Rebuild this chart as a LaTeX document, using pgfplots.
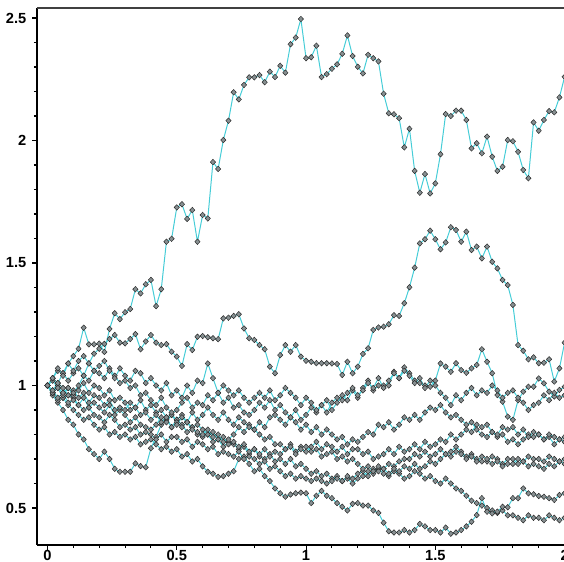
\documentclass[border=0pt]{standalone}
\usepackage{pgfplots}
\pgfplotsset{compat=1.18}
\usepackage{pgfplotstable}
\usepackage{fontspec}
\setmainfont{Liberation Sans}

\definecolor{pathcyan}{RGB}{70,205,215}
\definecolor{markgray}{RGB}{135,143,145}

% t, then ten sample paths (step 0.02)
\pgfplotstableread{
t    A     B     C     D     E     F     G     H     I     J
0.00 1.00  1.00  1.00  1.00  1.00  1.00  1.00  1.00  1.00  1.00
0.02 1.03  1.03  1.03  0.98  1.02  0.97  0.98  0.97  0.97  0.96
0.04 1.07  1.06  1.01  1.01  0.99  1.00  0.95  0.99  0.94  0.93
0.06 1.04  1.05  1.05  0.99  0.97  0.96  0.97  0.95  0.95  0.90
0.08 1.09  1.09  1.02  0.96  0.99  0.99  0.93  0.96  0.92  0.86
0.10 1.12  1.06  1.05  0.97  0.96  0.98  0.94  0.95  0.90  0.84
0.12 1.15  1.10  1.07  1.00  0.98  0.95  0.92  0.92  0.88  0.80
0.14 1.236 1.12  1.04  1.04  1.01  0.97  0.95  0.90  0.86  0.78
0.16 1.168 1.09  1.09  1.02  0.97  0.93  0.91  0.91  0.87  0.74
0.18 1.168 1.13  1.06  1.06  1.00  0.96  0.93  0.88  0.84  0.72
0.20 1.171 1.15  1.08  1.05  0.99  0.95  0.91  0.87  0.82  0.70
0.22 1.137 1.17  1.10  1.03  0.96  0.92  0.89  0.85  0.83  0.73
0.24 1.231 1.19  1.06  1.07  0.98  0.94  0.92  0.88  0.80  0.70
0.26 1.295 1.206 1.03  1.04  0.94  0.90  0.88  0.86  0.81  0.66
0.28 1.271 1.175 1.07  1.01  0.95  0.91  0.90  0.83  0.79  0.648
0.30 1.299 1.172 1.04  1.02  0.93  0.90  0.88  0.84  0.80  0.648
0.32 1.312 1.19  1.02  0.99  0.90  0.93  0.85  0.82  0.78  0.648
0.34 1.393 1.210 1.06  1.00  0.91  0.91  0.87  0.83  0.79  0.682
0.36 1.376 1.148 1.05  0.96  0.88  0.94  0.84  0.80  0.76  0.671
0.38 1.413 1.18  1.01  0.97  0.89  0.90  0.83  0.81  0.77  0.666
0.40 1.431 1.206 1.03  0.94  0.86  0.92  0.82  0.80  0.78  0.744
0.42 1.324 1.175 1.00  0.92  0.88  0.89  0.84  0.78  0.76  0.79
0.44 1.393 1.165 0.98  0.95  0.85  0.90  0.87  0.80  0.74  0.84
0.46 1.587 1.169 1.01  0.91  0.87  0.87  0.85  0.77  0.75  0.86
0.48 1.599 1.138 0.96  0.89  0.83  0.88  0.88  0.79  0.73  0.83
0.50 1.727 1.118 0.98  0.90  0.84  0.85  0.86  0.79  0.74  0.86
0.52 1.740 1.08  0.95  0.93  0.87  0.83  0.88  0.77  0.71  0.84
0.54 1.680 1.169 1.00  0.95  0.85  0.85  0.85  0.78  0.72  0.81
0.56 1.716 1.145 0.97  0.91  0.89  0.82  0.83  0.75  0.69  0.83
0.58 1.587 1.199 1.02  0.93  0.86  0.81  0.84  0.77  0.70  0.80
0.60 1.696 1.202 1.01  0.92  0.88  0.80  0.82  0.76  0.67  0.79
0.62 1.682 1.197 1.09  0.96  0.91  0.82  0.80  0.74  0.648 0.80
0.64 1.912 1.193 1.03  0.94  0.88  0.79  0.81  0.75  0.64  0.77
0.66 1.884 1.189 0.97  0.97  0.86  0.80  0.78  0.72  0.627 0.78
0.68 2.002 1.274 1.00  0.93  0.89  0.77  0.79  0.73  0.63  0.75
0.70 2.081 1.277 0.98  0.95  0.86  0.78  0.76  0.72  0.64  0.77
0.72 2.197 1.284 0.96  0.91  0.84  0.80  0.77  0.71  0.65  0.76
0.74 2.168 1.291 0.98  0.92  0.87  0.83  0.75  0.73  0.70  0.74
0.76 2.227 1.233 0.95  0.89  0.85  0.81  0.76  0.70  0.71  0.75
0.78 2.258 1.193 0.93  0.88  0.83  0.84  0.73  0.71  0.68  0.72
0.80 2.258 1.186 0.95  0.90  0.82  0.82  0.74  0.70  0.65  0.74
0.82 2.267 1.165 0.97  0.93  0.85  0.80  0.72  0.68  0.66  0.71
0.84 2.238 1.148 0.95  0.91  0.83  0.78  0.74  0.69  0.63  0.70
0.86 2.281 1.077 0.98  0.94  0.87  0.79  0.71  0.66  0.61  0.72
0.88 2.259 1.050 0.94  0.90  0.88  0.76  0.73  0.67  0.58  0.69
0.90 2.305 1.124 0.96  0.92  0.86  0.76  0.72  0.65  0.56  0.70
0.92 2.277 1.165 0.99  0.89  0.84  0.74  0.74  0.63  0.546 0.68
0.94 2.393 1.138 0.97  0.87  0.87  0.75  0.76  0.64  0.555 0.70
0.96 2.420 1.165 0.95  0.90  0.85  0.72  0.73  0.62  0.56  0.67
0.98 2.496 1.118 0.92  0.86  0.82  0.74  0.75  0.63  0.563 0.68
1.00 2.336 1.101 0.95  0.88  0.84  0.73  0.75  0.62  0.56  0.66
1.02 2.340 1.097 0.93  0.91  0.81  0.75  0.73  0.61  0.52  0.64
1.04 2.387 1.091 0.90  0.89  0.83  0.77  0.74  0.62  0.55  0.65
1.06 2.259 1.091 0.92  0.92  0.80  0.74  0.71  0.61  0.57  0.63
1.08 2.271 1.091 0.89  0.94  0.82  0.76  0.72  0.60  0.55  0.64
1.10 2.293 1.090 0.93  0.90  0.80  0.75  0.73  0.61  0.54  0.62
1.12 2.311 1.088 0.95  0.93  0.78  0.73  0.70  0.62  0.52  0.63
1.14 2.354 1.043 0.94  0.96  0.79  0.75  0.71  0.61  0.505 0.61
1.16 2.429 1.097 0.97  0.94  0.76  0.72  0.69  0.63  0.49  0.62
1.18 2.345 1.050 0.99  0.98  0.78  0.74  0.70  0.62  0.517 0.60
1.20 2.301 1.077 0.96  0.95  0.77  0.74  0.68  0.64  0.52  0.62
1.22 2.274 1.129 0.98  0.99  0.79  0.72  0.66  0.65  0.51  0.63
1.24 2.350 1.152 1.01  1.02  0.81  0.73  0.67  0.63  0.51  0.65
1.26 2.336 1.227 0.99  0.98  0.80  0.70  0.65  0.66  0.49  0.64
1.28 2.323 1.237 1.03  1.00  0.84  0.71  0.67  0.65  0.48  0.66
1.30 2.191 1.240 0.99  1.00  0.83  0.72  0.66  0.66  0.44  0.64
1.32 2.111 1.250 1.02  1.00  0.85  0.74  0.64  0.68  0.405 0.63
1.34 2.107 1.287 1.05  1.056 0.82  0.72  0.66  0.67  0.40  0.65
1.36 2.091 1.284 1.03  1.03  0.84  0.75  0.65  0.69  0.40  0.64
1.38 1.972 1.336 1.06  1.074 0.87  0.73  0.67  0.70  0.41  0.62
1.40 2.048 1.401 1.04  1.05  0.86  0.74  0.66  0.70  0.40  0.63
1.42 1.876 1.481 1.01  1.02  0.88  0.76  0.68  0.72  0.41  0.65
1.44 1.787 1.580 1.03  1.01  0.86  0.74  0.66  0.71  0.435 0.64
1.46 1.863 1.597 0.99  1.00  0.89  0.77  0.67  0.73  0.425 0.62
1.48 1.784 1.632 1.02  0.995 0.91  0.75  0.69  0.71  0.41  0.63
1.50 1.825 1.597 1.00  1.02  0.90  0.76  0.68  0.72  0.41  0.61
1.52 1.944 1.556 0.97  1.09  0.92  0.78  0.70  0.74  0.40  0.60
1.54 2.108 1.584 0.95  1.077 0.89  0.77  0.72  0.72  0.42  0.62
1.56 2.100 1.646 0.92  1.056 0.87  0.80  0.71  0.73  0.395 0.60
1.58 2.122 1.635 0.96  1.091 0.88  0.78  0.73  0.75  0.40  0.58
1.60 2.122 1.587 0.94  1.063 0.86  0.80  0.72  0.73  0.41  0.57
1.62 2.084 1.628 0.97  1.052 0.84  0.82  0.70  0.71  0.425 0.55
1.64 1.968 1.553 0.99  1.070 0.85  0.81  0.71  0.72  0.444 0.53
1.66 1.989 1.567 0.96  1.084 0.82  0.84  0.69  0.70  0.471 0.52
1.68 1.948 1.519 0.98  1.148 0.80  0.83  0.71  0.69  0.54  0.51
1.70 2.016 1.567 0.97  1.097 0.79  0.84  0.70  0.69  0.485 0.50
1.72 1.934 1.505 1.00  1.050 0.81  0.81  0.68  0.71  0.478 0.49
1.74 1.876 1.478 0.98  0.961 0.80  0.79  0.69  0.70  0.485 0.48
1.76 1.893 1.431 0.95  0.934 0.83  0.80  0.67  0.68  0.505 0.49
1.78 2.002 1.410 0.97  0.873 0.82  0.77  0.68  0.70  0.503 0.47
1.80 1.997 1.329 0.98  0.86  0.83  0.78  0.68  0.70  0.54  0.47
1.82 1.954 1.165 0.95  0.94  0.80  0.76  0.70  0.68  0.54  0.46
1.84 1.880 1.142 0.93  0.975 0.82  0.78  0.69  0.69  0.58  0.45
1.86 1.846 1.107 0.90  0.995 0.79  0.80  0.71  0.67  0.56  0.47
1.88 2.074 1.115 0.92  0.995 0.81  0.79  0.70  0.68  0.556 0.46
1.90 2.040 1.091 0.93  1.029 0.80  0.80  0.70  0.67  0.549 0.46
1.92 2.084 1.093 0.96  1.009 0.78  0.78  0.69  0.66  0.546 0.45
1.94 2.120 1.107 0.94  0.975 0.80  0.79  0.71  0.68  0.54  0.47
1.96 2.115 1.016 0.97  0.955 0.79  0.76  0.70  0.67  0.533 0.46
1.98 2.176 1.070 0.95  0.982 0.78  0.78  0.69  0.69  0.553 0.45
2.00 2.260 1.175 0.96  0.995 0.79  0.77  0.70  0.68  0.56  0.46
}\paths

\tikzset{
    walk/.style={
        color=pathcyan,
        line width=0.75pt,
        mark=diamond*,
        mark size=2.1pt,
        mark options={fill=markgray, draw=black!85, line width=0.35pt, solid, xscale=1.25},
    },
}

\begin{document}
\begin{tikzpicture}
\begin{axis}[
    scale only axis,
    width=395.7pt, height=402.75pt,
    xmin=-0.0406, xmax=2,
    ymin=0.349, ymax=2.541,
    axis lines=left,
    axis line style={-, line width=1.1pt, black},
    xtick={0,0.5,1,1.5,2},
    ytick={0.5,1,1.5,2,2.5},
    minor tick num=4,
    tick align=outside,
    major tick length=3.5pt,
    minor tick length=2.3pt,
    tick style={black, line width=0.8pt},
    tick label style={font=\bfseries\fontsize{11}{13}\selectfont},
    /pgf/number format/assume math mode=true,
    xticklabel style={inner sep=0pt, yshift=0pt},
    yticklabel style={xshift=-1pt},
]
\coordinate (sw) at (rel axis cs:0,0);
\coordinate (ne) at (rel axis cs:1,1);
\draw[black!75, line width=1.1pt] (rel axis cs:0,1) -- (rel axis cs:1,1);

\addplot[walk] table[x=t, y=J] {\paths};
\addplot[walk] table[x=t, y=I] {\paths};
\addplot[walk] table[x=t, y=H] {\paths};
\addplot[walk] table[x=t, y=G] {\paths};
\addplot[walk] table[x=t, y=F] {\paths};
\addplot[walk] table[x=t, y=E] {\paths};
\addplot[walk] table[x=t, y=D] {\paths};
\addplot[walk] table[x=t, y=C] {\paths};
\addplot[walk] table[x=t, y=B] {\paths};
\addplot[walk] table[x=t, y=A] {\paths};
\end{axis}
\pgfresetboundingbox
\useasboundingbox ([xshift=-27.75pt, yshift=-12.75pt]sw) rectangle ([xshift=-0.45pt, yshift=6pt]ne);
\end{tikzpicture}
\end{document}
